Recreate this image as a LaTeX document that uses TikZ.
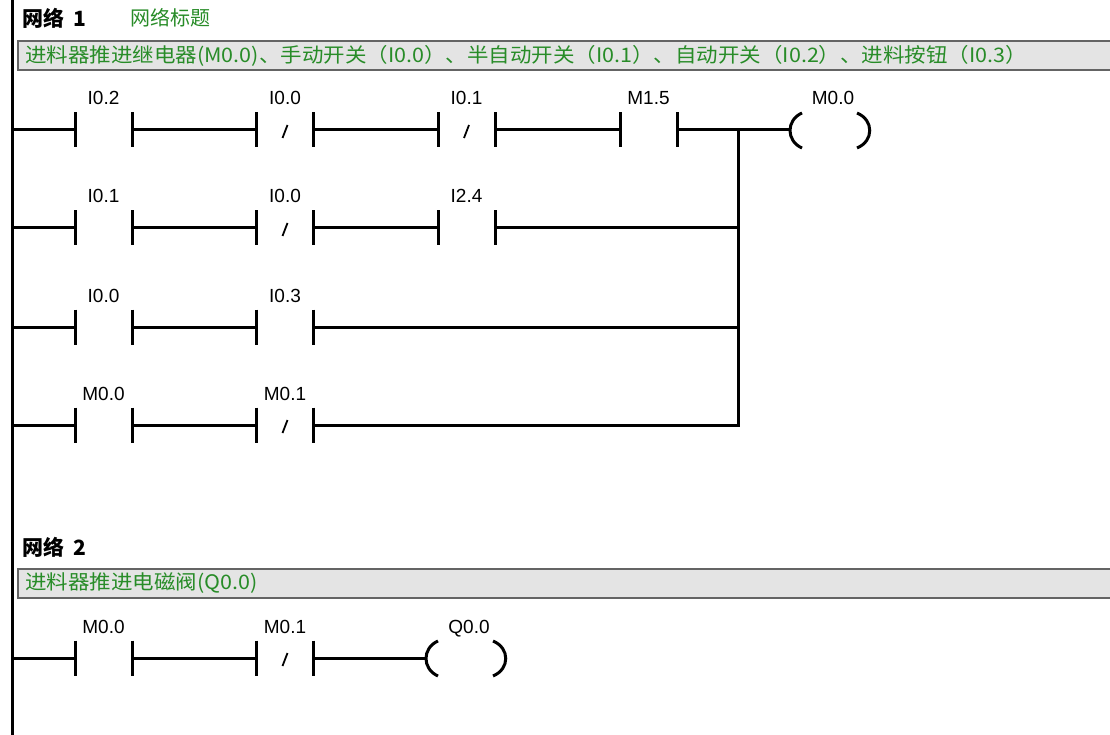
\documentclass[tikz,border=0pt]{standalone}
\usepackage{fontspec}
\usepackage{graphicx}
\setmainfont{Liberation Sans}
\newfontfamily\cjk{Noto Sans CJK SC}
\definecolor{cmtgreen}{RGB}{40,140,40}
\definecolor{boxfill}{RGB}{228,228,228}
\definecolor{boxline}{RGB}{100,100,100}
\tikzset{
  wire/.style={line width=3pt, black, line join=miter},
  barline/.style={line width=3pt, black},
  slashline/.style={line width=1.8pt, black},
  railline/.style={line width=3.4pt, black},
  ct/.style={minimum width=57pt, minimum height=35pt, inner sep=0pt, outer sep=0pt},
  coilnode/.style={minimum width=80pt, minimum height=35pt, inner sep=0pt, outer sep=0pt},
  lbl/.style={font=\fontsize{19}{19}\selectfont, anchor=base, inner sep=0pt},
  hdr/.style={font=\cjk\bfseries\fontsize{21}{21}\selectfont, anchor=west, inner sep=0pt},
  ttl/.style={font=\cjk\fontsize{20}{20}\selectfont, anchor=west, inner sep=0pt, text=cmtgreen},
  cmtbox/.style={draw=boxline, fill=boxfill, line width=1.4pt},
  cmt/.style={font=\cjk\fontsize{20}{20}\selectfont, anchor=west, inner sep=0pt, text=cmtgreen},
}
\newcommand\NOc[4]{%
  \node[ct] (#1) at (#2,#3) {};
  \draw[barline] (#1.north west) -- (#1.south west) (#1.north east) -- (#1.south east);
  \node[lbl] (#1-l) at (#2,#3-25) {#4};}
\newcommand\NCc[4]{%
  \NOc{#1}{#2}{#3}{#4}
  \draw[slashline] (#2-2.5,#3+8) -- (#2+2.5,#3-5);}
\newcommand\coilsym[4]{%
  \node[coilnode] (#1) at (#2,#3) {};
  \draw[barline] (#2-28,#3-17) .. controls (#2-44,#3-10) and (#2-44,#3+11) .. (#2-28,#3+18);
  \draw[barline] (#2+27,#3-17) .. controls (#2+44,#3-10) and (#2+44,#3+11) .. (#2+27,#3+18);
  \node[lbl] (#1-l) at (#2+3,#3-25) {#4};}
\begin{document}
\begin{tikzpicture}[x=1pt,y=-1pt]
\useasboundingbox (0,0) rectangle (1110,735);
\fill[white] (0,0) rectangle (1110,735);

% left power rail
\coordinate (railtop) at (12.5,0);
\coordinate (railbot) at (12.5,735);
\draw[railline] (railtop) -- (railbot);

% ---------- Network 1 ----------
\node[hdr] (h1) at (22,18) {网络\hspace{0.45em}1};
\node[ttl] (t1) at (130,18) {网络标题};
\draw[cmtbox] (18,41) rectangle (1116,70);
\node[cmt] (c1) at (25,55.5) {\scalebox{1.075}[1]{进料器推进继电器(M0.0)、手动开关（I0.0）、半自动开关（I0.1）、自动开关（I0.2）、进料按钮（I0.3）}};

\coordinate (ra1) at (12.5,130);
\coordinate (ra2) at (12.5,228);
\coordinate (ra3) at (12.5,327);
\coordinate (ra4) at (12.5,425);
\coordinate (j1) at (738,130);
\coordinate (j4) at (738,425);

% row 1
\NOc{a1}{103.5}{130}{I0.2}
\NCc{a2}{285}{130}{I0.0}
\NCc{a3}{466.5}{130}{I0.1}
\NOc{a4}{648.5}{130}{M1.5}
\coilsym{k1}{830}{130}{M0.0}
\draw[wire] (ra1) -- (a1.west);
\draw[wire] (a1.east) -- (a2.west);
\draw[wire] (a2.east) -- (a3.west);
\draw[wire] (a3.east) -- (a4.west);
\draw[wire] (a4.east) -- (k1.west);

% row 2
\NOc{b1}{103.5}{228}{I0.1}
\NCc{b2}{285}{228}{I0.0}
\NOc{b3}{466.5}{228}{I2.4}
\draw[wire] (ra2) -- (b1.west);
\draw[wire] (b1.east) -- (b2.west);
\draw[wire] (b2.east) -- (b3.west);
\draw[wire] (b3.east) -- (b3.east -| j1);

% row 3
\NOc{d1}{103.5}{327}{I0.0}
\NOc{d2}{285}{327}{I0.3}
\draw[wire] (ra3) -- (d1.west);
\draw[wire] (d1.east) -- (d2.west);
\draw[wire] (d2.east) -- (d2.east -| j1);

% row 4
\NOc{e1}{103.5}{425}{M0.0}
\NCc{e2}{285}{425}{M0.1}
\draw[wire] (ra4) -- (e1.west);
\draw[wire] (e1.east) -- (e2.west);
\draw[wire] (e2.east) -- (j4) -- (j1);

% ---------- Network 2 ----------
\node[hdr] (h2) at (22,547) {网络\hspace{0.45em}2};
\draw[cmtbox] (18,569) rectangle (1116,598);
\node[cmt] (c2) at (25,583.5) {\scalebox{1.075}[1]{进料器推进电磁阀(Q0.0)}};

\coordinate (ra5) at (12.5,658);
\NOc{f1}{103.5}{658}{M0.0}
\NCc{f2}{285}{658}{M0.1}
\coilsym{k2}{466}{658}{Q0.0}
\draw[wire] (ra5) -- (f1.west);
\draw[wire] (f1.east) -- (f2.west);
\draw[wire] (f2.east) -- (k2.west);
\end{tikzpicture}
\end{document}
